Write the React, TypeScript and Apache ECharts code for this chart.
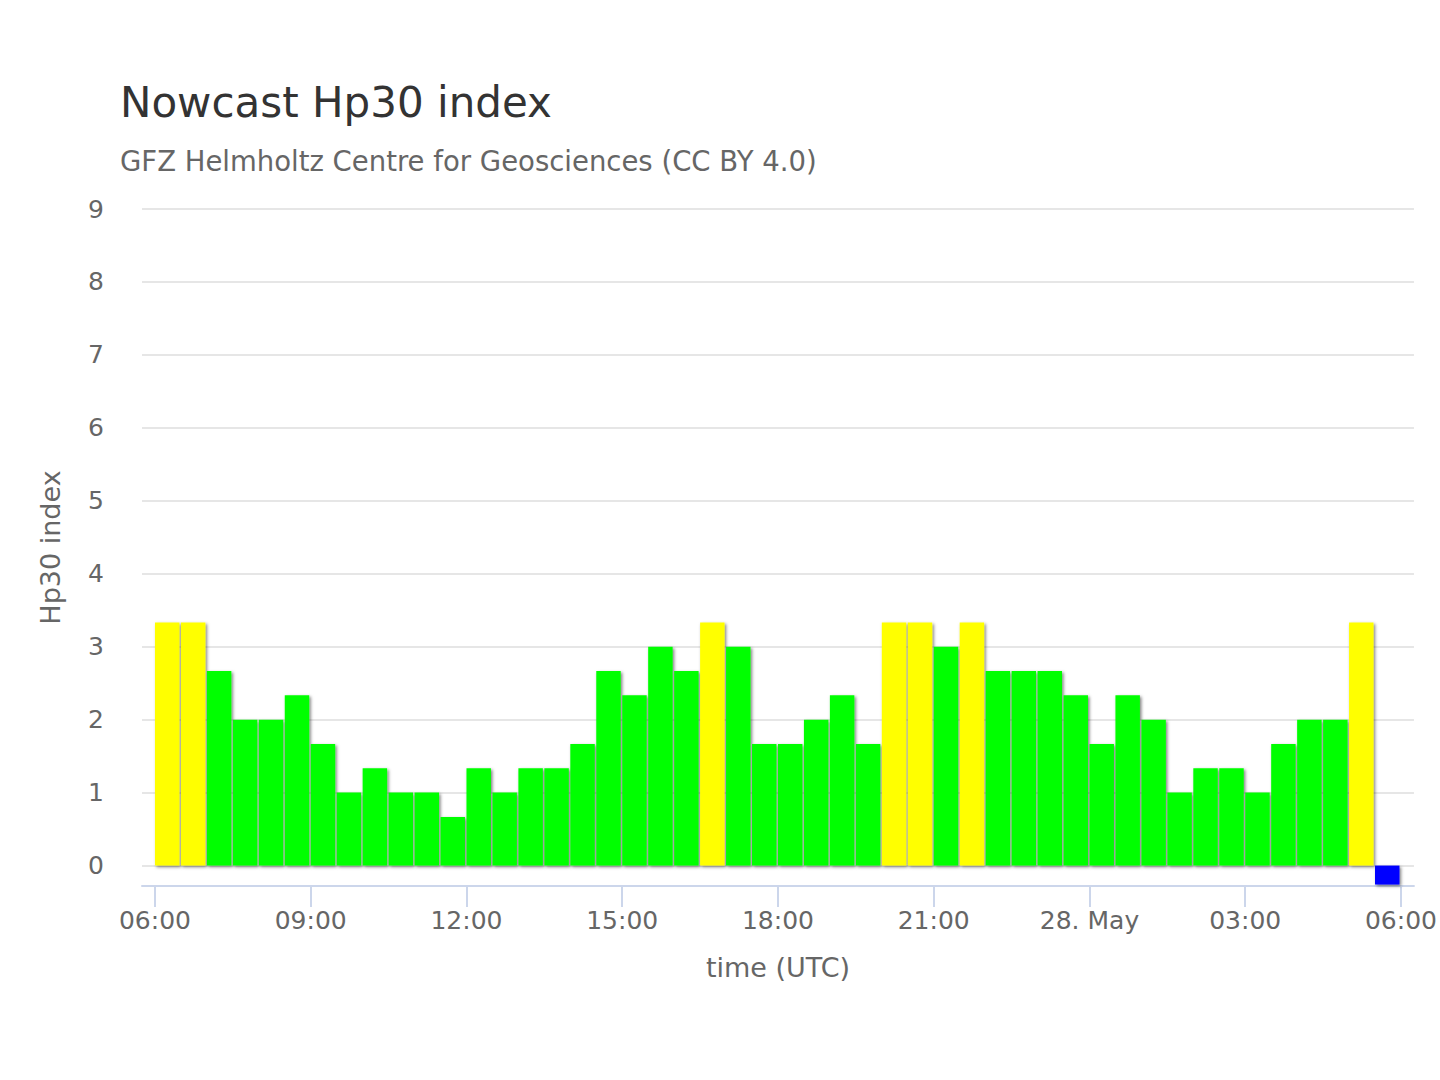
/**
 * Nowcast Hp30 index bar chart
 */

import React, { useEffect, useRef } from 'react';
import * as echarts from 'echarts';

// Hp30 per 30-minute slot, starting 06:00 UTC (3.333 = 3+, 2.667 = 3-, ...)
// last slot is the "not yet available" placeholder drawn below zero
const hp30Values = [
    3.333, 3.333, 2.667, 2.0, 2.0, 2.333, 1.667, 1.0, 1.333, 1.0, 1.0, 0.667,
    1.333, 1.0, 1.333, 1.333, 1.667, 2.667, 2.333, 3.0, 2.667, 3.333, 3.0, 1.667,
    1.667, 2.0, 2.333, 1.667, 3.333, 3.333, 3.0, 3.333, 2.667, 2.667, 2.667, 2.333,
    1.667, 2.333, 2.0, 1.0, 1.333, 1.333, 1.0, 1.667, 2.0, 2.0, 3.333, -0.26,
];

const slotHours = 0.5;

// hours after 06:00 UTC on the first day
const xTickHours = [0, 3, 6, 9, 12, 15, 18, 21, 24];
const xTickLabels = ['06:00', '09:00', '12:00', '15:00', '18:00', '21:00', '28. May', '03:00', '06:00'];

const yTickValues = [0, 1, 2, 3, 4, 5, 6, 7, 8, 9];

const FONT = '"DejaVu Sans", "Noto Sans", sans-serif';

const colorFor = (v: number): string => {
    if (v < 0) return '#0000ff';
    if (v > 3.2) return '#ffff00';
    return '#00ff00';
};

const App: React.FC = () => {
    const chartRef = useRef<HTMLDivElement>(null);

    useEffect(() => {
        if (!chartRef.current) return;
        const chart = echarts.init(chartRef.current, undefined, { renderer: 'svg' });

        chart.setOption({
            animation: false,
            backgroundColor: '#ffffff',
            title: [
                {
                    text: 'Nowcast Hp30 index',
                    left: 120,
                    top: 81,
                    padding: 0,
                    textStyle: { fontFamily: FONT, fontSize: 42, fontWeight: 'normal', color: '#333333' },
                },
                {
                    text: 'GFZ Helmholtz Centre for Geosciences (CC BY 4.0)',
                    left: 120,
                    top: 147,
                    padding: 0,
                    textStyle: { fontFamily: FONT, fontSize: 27.5, fontWeight: 'normal', color: '#666666' },
                },
            ],
            grid: { left: 142, right: 22, top: 209, bottom: 194, containLabel: false },
            xAxis: {
                type: 'value',
                min: -0.25,
                max: 24.25,
                name: 'time (UTC)',
                nameLocation: 'middle',
                nameGap: 68,
                nameTextStyle: { fontFamily: FONT, fontSize: 27, color: '#666666' },
                axisLine: { show: true, onZero: false, lineStyle: { color: '#ccd6eb', width: 2 } },
                axisTick: {
                    show: true,
                    customValues: xTickHours,
                    length: 21,
                    lineStyle: { color: '#ccd6eb', width: 2 },
                },
                axisLabel: {
                    customValues: xTickHours,
                    margin: 22,
                    fontFamily: FONT,
                    fontSize: 25,
                    color: '#666666',
                    formatter: (val: number) => {
                        const idx = xTickHours.indexOf(Math.round(val));
                        return idx >= 0 ? xTickLabels[idx] : '';
                    },
                },
                splitLine: { show: false },
            },
            yAxis: {
                type: 'value',
                min: -0.28,
                max: 9,
                name: 'Hp30 index',
                nameLocation: 'middle',
                nameGap: 78,
                nameTextStyle: { fontFamily: FONT, fontSize: 27, color: '#666666' },
                axisLine: { show: false },
                axisTick: { show: false, customValues: yTickValues },
                axisLabel: {
                    customValues: yTickValues,
                    margin: 38,
                    fontFamily: FONT,
                    fontSize: 25,
                    color: '#666666',
                },
                splitLine: { show: true, lineStyle: { color: '#e6e6e6', width: 2 } },
            },
            series: [
                {
                    type: 'custom',
                    name: 'Hp30',
                    data: hp30Values.map((v, i) => [i * slotHours, v]),
                    encode: { x: 0, y: 1 },
                    renderItem: (_params: unknown, api: any) => {
                        const start = api.value(0) as number;
                        const v = api.value(1) as number;
                        const p0 = api.coord([start, 0]);
                        const p1 = api.coord([start + slotHours, v]);
                        return {
                            type: 'rect',
                            shape: {
                                x: p0[0],
                                y: Math.min(p0[1], p1[1]),
                                width: p1[0] - p0[0] - 1.5,
                                height: Math.abs(p1[1] - p0[1]),
                            },
                            style: {
                                fill: colorFor(v),
                                shadowBlur: 3,
                                shadowColor: 'rgba(0,0,0,0.5)',
                                shadowOffsetX: 1.5,
                                shadowOffsetY: 1.5,
                            },
                        };
                    },
                },
            ],
        });

        return () => chart.dispose();
    }, []);

    return (
        <div
            ref={chartRef}
            style={{ position: 'absolute', left: 0, top: 0, width: 1440, height: 1080 }}
        />
    );
};

export default App;
